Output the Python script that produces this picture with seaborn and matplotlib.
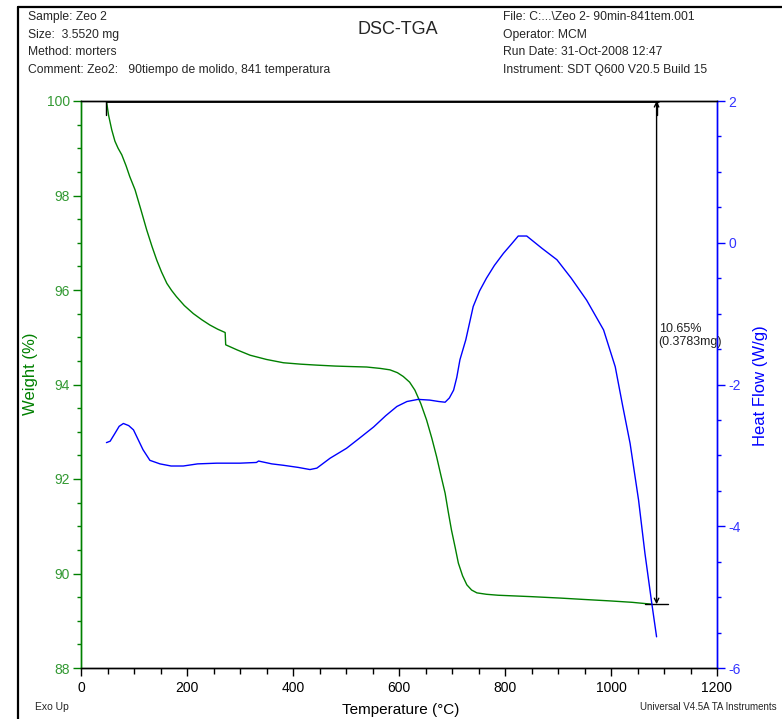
import numpy as np
import pandas as pd
import matplotlib
matplotlib.use("Agg")
import matplotlib.pyplot as plt
from matplotlib.lines import Line2D
from matplotlib.ticker import MultipleLocator
import seaborn as sns

# ---------------- data ----------------
tga_temp = [48, 52, 58, 64, 70, 77, 85, 92, 102, 113, 124, 134, 143, 152, 162, 171, 180,
            195, 212, 228, 243, 258, 272, 273, 295, 319, 350, 382, 415, 445, 480, 508, 539,
            565, 583, 597, 608, 620, 630, 641, 652, 662, 671, 679, 687, 693, 699, 706, 712,
            720, 728, 737, 747, 765, 787, 850, 904, 950, 998, 1040, 1077]
tga_weight = [100.0, 99.7, 99.39, 99.15, 99.0, 98.86, 98.63, 98.4, 98.12, 97.7, 97.27, 96.92,
              96.63, 96.38, 96.14, 95.99, 95.86, 95.67, 95.5, 95.37, 95.26, 95.17, 95.1, 94.84,
              94.73, 94.62, 94.53, 94.46, 94.43, 94.41, 94.39, 94.38, 94.37, 94.34, 94.31,
              94.25, 94.17, 94.05, 93.88, 93.6, 93.25, 92.86, 92.47, 92.08, 91.7, 91.3, 90.92,
              90.55, 90.22, 89.95, 89.76, 89.65, 89.59, 89.56, 89.54, 89.51, 89.48, 89.45,
              89.42, 89.39, 89.35]

dsc_temp = [48, 55, 64, 72, 80, 90, 99, 108, 117, 130, 149, 170, 193, 220, 256, 300, 331,
            335, 360, 382, 410, 432, 445, 470, 501, 525, 552, 575, 596, 615, 636, 658, 675,
            687, 695, 703, 709, 715, 726, 740, 752, 765, 780, 797, 812, 825, 841, 870, 898,
            925, 954, 986, 1008, 1022, 1036, 1052, 1064, 1077, 1086]
dsc_flow = [-2.82, -2.80, -2.69, -2.59, -2.55, -2.58, -2.64, -2.78, -2.92, -3.07, -3.12,
            -3.15, -3.15, -3.12, -3.11, -3.11, -3.10, -3.08, -3.12, -3.14, -3.17, -3.20,
            -3.18, -3.04, -2.90, -2.76, -2.60, -2.44, -2.31, -2.24, -2.21, -2.22, -2.24,
            -2.25, -2.19, -2.08, -1.90, -1.65, -1.37, -0.90, -0.68, -0.50, -0.32, -0.15,
            -0.02, 0.095, 0.095, -0.08, -0.24, -0.50, -0.81, -1.23, -1.75, -2.30, -2.83,
            -3.63, -4.38, -5.09, -5.56]

x_ticks = [0, 200, 400, 600, 800, 1000, 1200]
w_ticks = [88, 90, 92, 94, 96, 98, 100]
hf_ticks = [-6, -4, -2, 0, 2]

step_start, step_end = 48, 1086
step_top, step_bottom = 100.0, 89.35
step_label = "10.65%\n(0.3783mg)"

header_left = ["Sample: Zeo 2", "Size:  3.5520 mg", "Method: morters",
               "Comment: Zeo2:   90tiempo de molido, 841 temperatura"]
header_right = ["File: C:...\\Zeo 2- 90min-841tem.001", "Operator: MCM",
                "Run Date: 31-Oct-2008 12:47", "Instrument: SDT Q600 V20.5 Build 15"]

# ---------------- style ----------------
sns.set_style("white")
plt.rcParams["font.family"] = ["Liberation Sans", "DejaVu Sans"]
plt.rcParams["axes.unicode_minus"] = False

GREEN = "#008000"
GREEN_TXT = "#339933"
BLUE = "#0000ff"
BLUE_TXT = "#3333ff"

W, H = 782, 719
fig = plt.figure(figsize=(W / 100, H / 100), dpi=100)
ax = fig.add_axes([81 / W, 1 - 668 / H, (717 - 81) / W, (668 - 101) / H])
ax2 = ax.twinx()

tga = pd.DataFrame({"Temperature": tga_temp, "Weight": tga_weight})
dsc = pd.DataFrame({"Temperature": dsc_temp, "HeatFlow": dsc_flow})

sns.lineplot(data=tga, x="Temperature", y="Weight", ax=ax, color=GREEN, lw=1.0,
             sort=False, estimator=None)
sns.lineplot(data=dsc, x="Temperature", y="HeatFlow", ax=ax2, color=BLUE, lw=1.0,
             sort=False, estimator=None)

ax.set_xlim(0, 1200)
ax.set_ylim(88, 100)
ax2.set_ylim(-6, 2)
ax.set_xticks(x_ticks)
ax.set_yticks(w_ticks)
ax2.set_yticks(hf_ticks)
ax.xaxis.set_minor_locator(MultipleLocator(50))
ax.yaxis.set_minor_locator(MultipleLocator(0.5))
ax2.yaxis.set_minor_locator(MultipleLocator(0.5))

for a in (ax, ax2):
    for s in a.spines.values():
        s.set_linewidth(1.0)
        s.set_color("black")
ax2.spines["left"].set_color(GREEN)
ax2.spines["right"].set_color(BLUE)
ax.spines["left"].set_color(GREEN)
ax.spines["right"].set_color(BLUE)

ax.tick_params(axis="x", which="major", direction="out", length=6, width=1,
               colors="black", labelsize=10, bottom=True, pad=3)
ax.tick_params(axis="x", which="minor", direction="out", length=4, width=1,
               colors="black", bottom=True)
ax.tick_params(axis="y", which="major", direction="out", length=6, width=1,
               color=GREEN, labelcolor=GREEN_TXT, labelsize=10, left=True, pad=2)
ax.tick_params(axis="y", which="minor", direction="out", length=3, width=1,
               color=GREEN, left=True)
ax2.tick_params(axis="y", which="major", direction="out", length=6, width=1,
                color=BLUE, labelcolor=BLUE_TXT, labelsize=10, right=True, pad=2)
ax2.tick_params(axis="y", which="minor", direction="out", length=3, width=1,
                color=BLUE, right=True)

ax.set_xlabel("")
ax.set_ylabel("")
ax2.set_ylabel("")
fig.text(401 / W, 1 - 710 / H, "Temperature (°C)", fontsize=11, color="black",
         ha="center", va="center")
fig.text(30 / W, 1 - 374 / H, "Weight (%)", fontsize=12, color=GREEN,
         ha="center", va="center", rotation=90)
fig.text(760 / W, 1 - 386 / H, "Heat Flow (W/g)", fontsize=12, color=BLUE,
         ha="center", va="center", rotation=90)

# ---------------- step-change annotation ----------------
ax.plot([step_start, step_end + 5], [step_top, step_top], color="black", lw=2.0,
        solid_capstyle="butt", zorder=5)
ax.plot([step_start, step_start], [step_top - 0.3, step_top + 0.12], color="black", lw=1.0)
ax.plot([step_end, step_end], [step_top - 0.3, step_top + 0.12], color="black", lw=1.0)
ax.plot([step_end - 21, step_end + 21], [step_bottom, step_bottom], color="black", lw=1.0)
ax.annotate("", xy=(step_end, step_top), xytext=(step_end, step_bottom),
            arrowprops=dict(arrowstyle="<->", lw=1.0, color="black",
                            mutation_scale=8, shrinkA=0, shrinkB=0))
ax.text(step_end + 4, 95.3, step_label, fontsize=9, color="#222222",
        ha="left", va="top", linespacing=1.15)

# ---------------- header / footer texts ----------------
for i, t in enumerate(header_left):
    fig.text(28 / W, 1 - (17 + 17.7 * i) / H, t, fontsize=8.7, ha="left", va="center")
for i, t in enumerate(header_right):
    fig.text(503 / W, 1 - (17 + 17.7 * i) / H, t, fontsize=8.7, ha="left", va="center")
fig.text(398 / W, 1 - 29 / H, "DSC-TGA", fontsize=13, ha="center", va="center")
fig.text(35 / W, 1 - 707 / H, "Exo Up", fontsize=7.5, ha="left", va="center")
fig.text(640 / W, 1 - 707 / H, "Universal V4.5A TA Instruments", fontsize=7,
         ha="left", va="center")

# page frame
fig.add_artist(Line2D([18 / W, 18 / W], [0, 1 - 7 / H], transform=fig.transFigure,
                      color="black", lw=1.6))
fig.add_artist(Line2D([18 / W, 1], [1 - 7 / H, 1 - 7 / H], transform=fig.transFigure,
                      color="black", lw=1.6))

fig.savefig("out.png", dpi=100)
